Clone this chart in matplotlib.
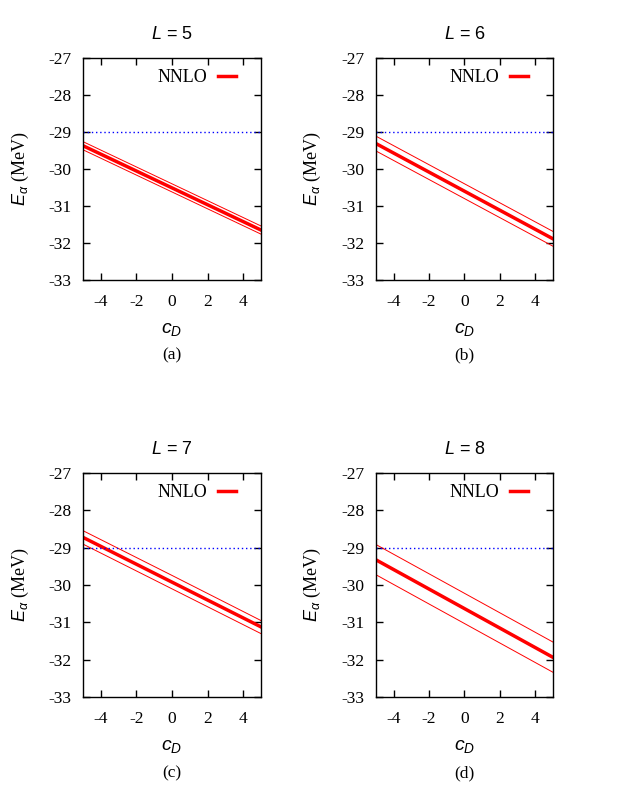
import matplotlib
matplotlib.use("Agg")
import matplotlib.pyplot as plt

plt.rcParams["font.family"] = ["Liberation Serif", "DejaVu Serif"]
plt.rcParams["axes.unicode_minus"] = False
plt.rcParams["mathtext.fontset"] = "custom"
plt.rcParams["mathtext.it"] = "Liberation Sans:italic"
plt.rcParams["mathtext.rm"] = "Liberation Sans"

# data: E_alpha (MeV) vs c_D for each box size L, central value and band edges
cd = [-5, 0, 5]
box_sizes = [5, 6, 7, 8]
panel_tags = ["(a)", "(b)", "(c)", "(d)"]
central = [
    [-29.37, -30.51, -31.65],
    [-29.31, -30.60, -31.89],
    [-28.72, -29.92, -31.12],
    [-29.32, -30.63, -31.94],
]
upper = [
    [-29.26, -30.40, -31.54],
    [-29.11, -30.40, -31.69],
    [-28.54, -29.74, -30.95],
    [-28.91, -30.22, -31.53],
]
lower = [
    [-29.48, -30.62, -31.76],
    [-29.51, -30.80, -32.09],
    [-28.90, -30.10, -31.30],
    [-29.72, -31.03, -32.34],
]
e_exp = -29.0

fig = plt.figure(figsize=(6.38, 7.88), dpi=100)

# axes boxes in figure fractions [left, bottom, width, height]
boxes = [
    [0.130, 0.6447, 0.279, 0.2817],
    [0.589, 0.6447, 0.278, 0.2817],
    [0.130, 0.1155, 0.279, 0.2840],
    [0.589, 0.1155, 0.278, 0.2840],
]

for i in range(4):
    ax = fig.add_axes(boxes[i])
    ax.plot(cd, upper[i], color="red", lw=0.7)
    ax.plot(cd, lower[i], color="red", lw=0.7)
    ax.plot(cd, central[i], color="red", lw=2.5, label="NNLO")
    ax.axhline(e_exp, color="blue", lw=1.0, ls=(0, (1, 2)))

    ax.set_xlim(-5, 5)
    ax.set_ylim(-33, -27)
    ax.set_xticks([-4, -2, 0, 2, 4])
    ax.set_yticks(range(-33, -26))
    ax.tick_params(direction="in", top=True, right=True, length=5, width=1,
                   labelsize=12.5)
    ax.tick_params(axis="y", pad=8)
    ax.tick_params(axis="x", pad=10)
    for s in ax.spines.values():
        s.set_linewidth(1.0)

    ax.set_title(r"$L$ = %d" % box_sizes[i], fontsize=13, pad=14,
                 family="Liberation Sans")
    ax.set_xlabel(r"$c_D$", fontsize=14, labelpad=8)
    ax.set_ylabel(r"$E_\alpha$ (MeV)", fontsize=13, labelpad=13)
    ax.text(0.5, -0.34, panel_tags[i], transform=ax.transAxes,
            ha="center", va="center", fontsize=12.5)

    ax.legend(loc="upper right", frameon=False, markerfirst=False,
              handlelength=1.0, handletextpad=0.6, fontsize=13,
              borderaxespad=0.2, bbox_to_anchor=(0.92, 1.0))

fig.savefig("out.png", dpi=100)
